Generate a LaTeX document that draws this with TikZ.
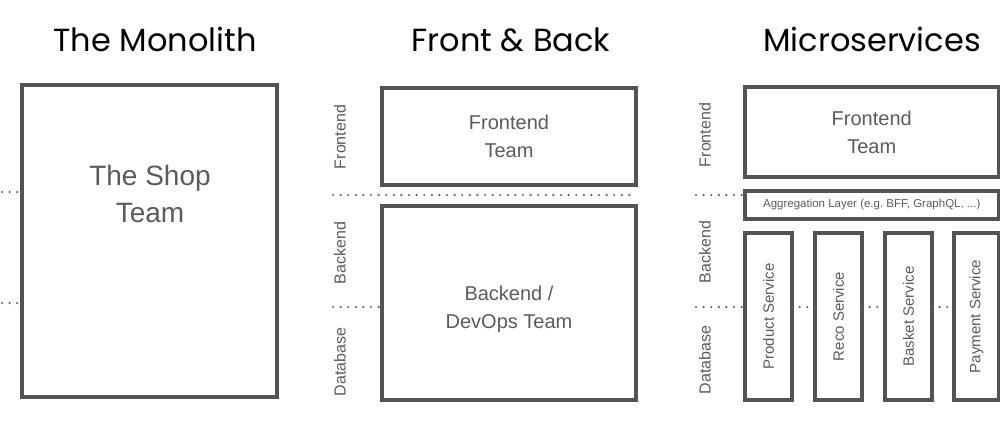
\documentclass[tikz,border=0pt]{standalone}
\usepackage{fontspec}
\setmainfont{Liberation Sans}
\newfontfamily\handfont{Poppins}
\usetikzlibrary{positioning}
\definecolor{boxgray}{HTML}{525354}
\definecolor{txtgray}{HTML}{5A5B5D}
\definecolor{dotgray}{HTML}{5F6062}

\begin{document}
\begin{tikzpicture}[
  x=1pt, y=-1pt,
  node distance=23pt,
  title/.style={font=\handfont\fontsize{32}{36}\selectfont, anchor=base},
  box/.style={rectangle, draw=boxgray, line width=3.5pt, outer sep=0pt, inner sep=0pt, align=center, text=txtgray},
  teambox/.style={box, font=\fontsize{20}{28}\selectfont},
  teamtext/.style={align=center, text=txtgray, font=\fontsize{28}{37}\selectfont},
  svcbox/.style={box, minimum width=47pt, minimum height=167pt, font=\fontsize{15}{17}\selectfont},
  layer/.style={rotate=90, text=txtgray, font=\fontsize{16}{18}\selectfont},
  sep/.style={draw=dotgray, line width=2.4pt, line cap=round, dash pattern=on 0pt off 7.6pt}
]
\useasboundingbox (0,0) rectangle (1000,420);

% The Monolith
\node[title] (mono) at (155,52) {The Monolith};
\node[box, minimum width=255pt, minimum height=312pt] (shop) at (149.5,241) {};
\node[teamtext] (shoptxt) at (150,194) {The Shop\\Team};
\coordinate (l1) at (2,192);
\coordinate (l2) at (2,303);
\draw[sep] (l1) -- (shop.west |- l1);
\draw[sep] (l2) -- (shop.west |- l2);

% Front & Back
\node[title] (fb) at (511,52) {Front \& Back};
\node[teambox, minimum width=254pt, minimum height=97pt] (fe) at (509,136.5) {Frontend\\Team};
\node[teambox, minimum width=254pt, minimum height=194pt, below=21pt of fe] (be) {\rule{0pt}{27pt}Backend /\\DevOps Team};
\node[layer] (fbfront) at (340,137) {Frontend};
\node[layer] (fbback) at (340,253) {Backend};
\node[layer] (fbdb) at (340,362) {Database};
\coordinate (m1) at (333,195);
\coordinate (m2) at (333,307);
\draw[sep] (m1) -- (fe.east |- m1);
\draw[sep] (m2) -- (be.west |- m2);

% Microservices
\node[title] (micro) at (872,52) {Microservices};
\node[teambox, minimum width=253.5pt, minimum height=90pt] (mfe) at (871.75,132) {Frontend\\Team};
\node[box, minimum width=253.5pt, minimum height=28pt, below=14pt of mfe, font=\fontsize{11.5}{13}\selectfont] (agg) {Aggregation Layer (e.g.\ BFF, GraphQL, ...)};
\node[svcbox, below right=14pt and 0pt of agg.south west] (prod) {\rotatebox{90}{Product Service}};
\node[svcbox, right=of prod] (reco) {\rotatebox{90}{Reco Service}};
\node[svcbox, right=of reco] (basket) {\rotatebox{90}{Basket Service}};
\node[svcbox, right=22pt of basket, minimum width=45pt] (pay) {\rotatebox{90}{Payment Service}};
\node[layer] (msfront) at (705,135) {Frontend};
\node[layer] (msback) at (705,252) {Backend};
\node[layer] (msdb) at (705,360) {Database};
\coordinate (r1) at (696,195);
\coordinate (r2) at (696,307);
\draw[sep] (r1) -- (agg.west |- r1);
\draw[sep] (r2) -- (prod.west |- r2);
\draw[sep] (prod.east |- r2) -- (reco.west |- r2);
\draw[sep] (reco.east |- r2) -- (basket.west |- r2);
\draw[sep] (basket.east |- r2) -- (pay.west |- r2);
\end{tikzpicture}
\end{document}
